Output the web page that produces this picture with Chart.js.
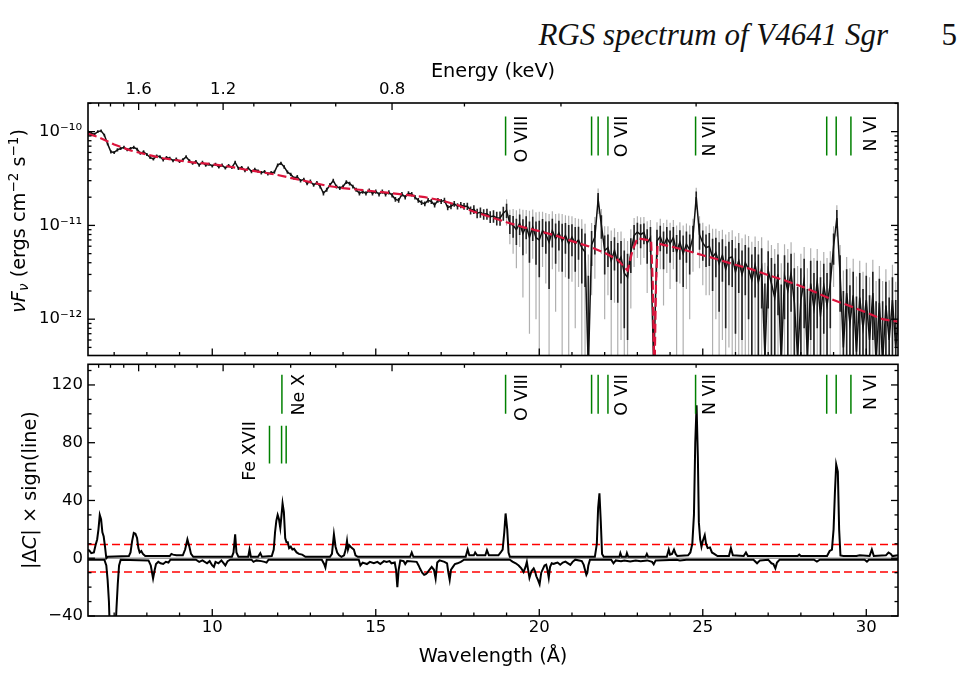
<!DOCTYPE html>
<html lang="en">
<head>
<meta charset="UTF-8">
<title>RGS spectrum of V4641 Sgr</title>
<style>
  body { margin: 0; background: #fff; }
  #page { position: relative; width: 964px; height: 695px; overflow: hidden; background: #fff; }
  .running { position: absolute; top: 17px; right: 76px; font: italic 31px 'Liberation Serif', serif; color: #111; white-space: nowrap; }
  .pageno { position: absolute; top: 17px; right: 7px; font: 31px 'Liberation Serif', serif; color: #111; }
  canvas { position: absolute; left: 0; }
</style>
</head>
<body>
<div id="page">
  <div class="running">RGS spectrum of V4641 Sgr</div>
  <div class="pageno">5</div>
  <canvas id="spec" width="964" height="360" style="top:0"></canvas>
  <canvas id="resid" width="964" height="335" style="top:360px"></canvas>
</div>

<script src="https://cdn.jsdelivr.net/npm/chart.js"></script>
<script>
  // wavelength grid of the binned spectrum (Angstrom)
  const waveStart = 6.2, waveStep = 0.1;
  const waveMin = 6.2, waveMax = 30.97;
  const hc = 12.398; // keV * Angstrom

  // nuFnu in units of 1e-12 ergs cm^-2 s^-1
  const fluxVal = [
    100, 96, 94, 100, 102, 92, 74, 61,
    60, 64, 66, 68, 64, 66, 68, 65, 59, 61,
    57, 53, 51, 55, 54, 50, 53, 52, 49, 51,
    48, 50, 54, 49, 46, 48, 44, 47, 44, 45,
    43, 45, 42, 44, 41, 43.5, 41.5, 47, 40.5, 41.5,
    38.5, 41, 37.5, 39.5, 38, 36.5, 37.5, 35.5, 36.5, 37,
    44, 46, 42, 37, 35, 32, 33, 30, 31, 28,
    29.5, 27, 28.5, 26, 22, 24, 27, 30, 26, 25,
    26, 29, 28, 26, 24, 22, 23, 22, 23.5, 22,
    23, 21.5, 23, 21.5, 22.5, 21, 19, 18.5, 21.5, 20,
    22, 21.5, 20, 18.5, 17.5, 17, 18.5, 18, 16.5, 18.5,
    18, 18.5, 15.5, 16, 17, 16, 16.5, 16, 16, 14.5,
    14.8, 13.5, 13.8, 13.2, 13.3, 12.4, 12.6, 12, 12, 13.5,
    14.5, 10.5, 10, 9, 10.5, 8.2, 9.8, 7.5, 9.6, 7.4,
    7.0, 8.8, 8, 6.6, 8.8, 7.2, 8.3, 6.8, 7.8, 6.4,
    7.5, 6.4, 7, 5.8, 5.2, 0.3, 6.2, 7.5, 19, 10,
    5.4, 5.8, 4.2, 5.4, 4.0, 4.6, 3.1, 2.8, 5.2, 7.8,
    8.5, 8.0, 8.4, 6.5, 7.4, 0.3, 6.8, 7.6, 6.0, 7.3,
    6.4, 7.4, 5.2, 6.6, 5.0, 6.3, 5.5, 7.5, 20, 8,
    6.5, 5.8, 6.0, 4.6, 5.1, 3.9, 4.8, 3.4, 4.5, 4.6,
    3.2, 4.2, 3.0, 4.0, 3.4, 2.6, 3.8, 2.5, 3.5, 0.4,
    3.3, 2.4, 1.7, 3.0, 0.35, 2.9, 2.0, 3.1, 1.5, 0.4,
    1.6, 2.6, 0.4, 2.4, 1.3, 2.5, 1.1, 2.3, 1.4, 2.4,
    6, 12, 3, 0.5, 1.9, 0.9, 1.8, 0.45, 1.7, 0.8,
    1.6, 0.6, 1.9, 0.35, 1.5, 0.35, 1.4, 0.6, 1.6, 0.5,
    1.2
  ];
  // 1-sigma errors of the binned points (black bars)
  const fluxErr = [
    3.5, 3.2, 3, 3.4, 3.6, 3.1, 2.6, 2.4,
    2.3, 2.5, 2.4, 2.6, 2.3, 2.5, 2.6, 2.4, 2.2, 2.3,
    2.1, 2.0, 1.9, 2.1, 2.0, 1.9, 2.0, 1.9, 1.8, 1.9,
    1.8, 1.9, 2.0, 1.8, 1.7, 1.8, 1.7, 1.8, 1.7, 1.7,
    1.6, 1.7, 1.6, 1.7, 1.6, 1.7, 1.6, 1.8, 1.6, 1.6,
    1.5, 1.6, 1.5, 1.6, 1.5, 1.5, 1.5, 1.4, 1.5, 1.5,
    1.7, 1.8, 1.7, 1.5, 1.4, 1.3, 1.4, 1.3, 1.3, 1.2,
    1.3, 1.2, 1.3, 1.2, 1.1, 1.2, 1.3, 1.4, 1.2, 1.2,
    1.2, 1.4, 1.3, 1.2, 1.2, 1.1, 1.2, 1.1, 1.2, 1.1,
    1.2, 1.1, 1.2, 1.1, 1.2, 1.1, 1.1, 1.1, 1.2, 1.1,
    1.2, 1.2, 1.1, 1.1, 1.0, 1.0, 1.1, 1.1, 1.0, 1.1,
    1.1, 1.2, 1.0, 1.1, 1.2, 1.2, 1.3, 1.3, 1.4, 1.4,
    1.6, 1.6, 1.7, 1.7, 1.8, 1.8, 1.9, 2.0, 2.1, 2.3,
    2.5, 2.4, 2.6, 2.8, 2.6, 3.4, 2.7, 3.5, 2.8, 3.6,
    4.2, 2.9, 3.0, 4.5, 3.0, 3.3, 2.9, 3.6, 2.8, 3.7,
    2.8, 3.2, 2.7, 3.4, 3.0, 2.6, 2.5, 2.6, 3.2, 2.8,
    2.4, 2.2, 2.6, 2.1, 2.5, 2.2, 2.3, 2.2, 2.1, 2.3,
    2.2, 2.3, 2.1, 2.6, 2.2, 0.5, 2.2, 2.3, 2.6, 2.3,
    2.4, 2.2, 2.7, 2.3, 2.8, 2.3, 2.5, 2.4, 3.0, 2.5,
    2.3, 2.2, 2.3, 2.6, 2.3, 2.7, 2.3, 2.6, 2.2, 2.4,
    2.5, 2.3, 2.4, 2.2, 2.4, 2.3, 2.1, 2.4, 2.2, 2.0,
    2.0, 2.1, 2.2, 1.9, 2.0, 1.9, 2.0, 1.9, 2.0, 1.8,
    1.9, 1.8, 1.7, 1.8, 1.8, 1.7, 1.7, 1.6, 1.7, 1.6,
    2.2, 2.6, 1.8, 1.5, 1.5, 1.4, 1.4, 1.3, 1.4, 1.3,
    1.3, 1.2, 1.3, 1.2, 1.2, 1.2, 1.1, 1.1, 1.2, 1.1,
    1.1
  ];
  // wider grey error bars of the fine bins, from 19.0 A onwards
  const wideStart = 19.0;
  const fluxErrWide = [
    4.5, 4.2, 5.0, 5.5, 4.6, 6.5, 4.8, 6.8, 5.2, 6.4,
    7.0, 5.2, 5.6, 6.6, 5.4, 6.0, 5.1, 6.4, 5.0, 6.3,
    5.0, 5.6, 4.8, 5.8, 5.2, 4.6, 4.4, 4.8, 5.8, 5.0,
    4.4, 4.0, 4.6, 3.9, 4.5, 4.0, 4.2, 4.0, 3.9, 4.2,
    4.0, 4.2, 3.9, 4.6, 4.0, 0.8, 4.0, 4.2, 4.6, 4.2,
    4.3, 4.0, 4.8, 4.2, 5.0, 4.2, 4.5, 4.3, 5.2, 4.5,
    4.2, 4.0, 4.2, 4.6, 4.1, 4.8, 4.2, 4.6, 4.0, 4.3,
    4.4, 4.1, 4.3, 4.0, 4.3, 4.1, 3.8, 4.3, 4.0, 3.6,
    3.6, 3.8, 3.9, 3.5, 3.6, 3.4, 3.6, 3.5, 3.6, 3.3,
    3.4, 3.3, 3.1, 3.3, 3.2, 3.1, 3.1, 2.9, 3.1, 2.9,
    3.8, 4.4, 3.2, 2.8, 2.7, 2.6, 2.6, 2.4, 2.5, 2.4,
    2.4, 2.2, 2.4, 2.2, 2.2, 2.2, 2.0, 2.0, 2.2, 2.0,
    2.0
  ];

  // best-fitting model (same units)
  const modelWave = [6.2, 6.5, 7.0, 7.5, 8.0, 8.5, 9.0, 9.5, 10.0, 10.5, 11.0, 11.5, 12.0, 12.5, 13.0, 13.5,
    14.0, 14.5, 15.0, 15.5, 16.0, 16.5, 17.0, 17.5, 18.0, 18.5, 19.0, 19.5, 20.0, 20.5, 21.0, 21.5, 22.0,
    22.4, 22.7, 22.85, 23.0, 23.42, 23.47, 23.52, 23.57, 23.62, 24.0, 24.5, 25.0, 25.5, 26.0, 26.5, 27.0,
    27.5, 28.0, 28.5, 29.0, 29.5, 30.0, 30.5, 30.97];
  const modelFlux = [95, 88, 73, 63, 57, 52, 49, 46.5, 45, 42.5, 39.5, 37, 34.5, 31.5, 29, 26.5,
    25, 24, 23, 22, 21, 20, 18.5, 16.5, 14, 12.3, 10.8, 9.6, 8.7, 7.8, 6.8, 6.0, 5.1,
    4.3, 3.3, 5.4, 7.3, 6.9, 2.5, 0.2, 2.5, 6.4, 6.0, 5.4, 4.8, 4.3, 3.8, 3.4, 2.95,
    2.6, 2.25, 1.9, 1.6, 1.38, 1.18, 1.0, 0.94];

  // |Delta C| x sign(line): emission-line search (>= 0)
  const resPosWave = [6.2, 6.25, 6.3, 6.38, 6.43, 6.48, 6.52, 6.56, 6.6, 6.64, 6.68, 6.72, 6.76, 6.8, 7.45,
    7.5, 7.55, 7.6, 7.65, 7.7, 7.74, 7.78, 7.83, 7.88, 7.95, 8.7, 8.75, 8.8, 8.9, 9.1, 9.17, 9.24, 9.3, 9.35, 9.42,
    10.6, 10.65, 10.7, 10.74, 10.8, 11.1, 11.14, 11.18, 11.4, 11.47, 11.52,
    11.82, 11.88, 11.92, 11.96, 12.0, 12.04, 12.08, 12.11, 12.15, 12.19, 12.23, 12.27, 12.31, 12.35, 12.4,
    12.45, 12.5, 12.58, 12.65, 12.75, 12.85, 13.6, 13.66, 13.72, 13.77, 13.82, 13.88, 13.95,
    14.03, 14.08, 14.12, 14.15, 14.19, 14.23, 14.28, 14.33, 14.38, 14.45, 16.05, 16.1, 16.15,
    17.75, 17.81, 17.86, 18.0, 18.04, 18.1, 18.35, 18.4, 18.46, 18.75, 18.82, 18.88, 18.93, 18.97, 19.02,
    19.06, 19.1, 21.7, 21.76, 21.8, 21.84, 21.88, 21.92, 21.97, 22.45, 22.48, 22.52, 22.65, 22.68, 22.72,
    23.25, 23.29, 23.33, 23.9, 23.96, 24.0, 24.06, 24.12, 24.17, 24.22, 24.55, 24.62, 24.68, 24.73, 24.77,
    24.81, 24.85, 24.88, 24.92, 24.96, 25.0, 25.06, 25.1, 25.15, 25.22, 25.28, 25.35, 25.45, 25.8, 25.86,
    25.92, 26.25, 26.32, 26.38, 27.9, 27.95, 28.0, 28.8, 28.88, 28.95, 29.0, 29.04, 29.08, 29.13, 29.17,
    29.21, 29.3, 29.7, 29.8, 30.1, 30.17, 30.23, 30.6, 30.68, 30.75, 30.8, 30.97];
  const resPosVal = [6, 5, 3.5, 4, 9, 13, 20, 30, 27, 18, 15, 8, 0, 1, 1.5,
    4, 12, 17.5, 17, 14, 7, 4, 5, 3, 1.5, 1.5, 3, 2.5, 2, 2, 6, 13, 8, 3, 1,
    1, 4, 16.5, 4, 1, 1, 6, 1, 1, 3.5, 1,
    1.5, 6, 18, 26, 30, 27, 21, 28, 38, 32, 14, 11, 11, 7, 8,
    6, 6.5, 4, 3, 2.5, 1, 1, 3, 16.5, 8, 4, 2, 1,
    2, 6, 12, 6, 9, 8, 7, 6, 2, 1, 1, 4, 1,
    1, 6, 2, 2, 4, 2, 2, 5.5, 2, 2, 4, 6, 18, 31, 20,
    4, 1, 1, 10, 35, 45, 26, 3, 1, 1, 3.5, 1, 1, 3.5, 1,
    1, 3, 1, 1, 6, 2.5, 3, 6, 3, 1.5, 2, 4, 10, 30, 80,
    106, 70, 25, 13, 8, 12, 16, 10, 7, 7.5, 4, 3, 1.5, 1.5, 7,
    2, 1.5, 4, 1.5, 1.5, 2.5, 1.5, 1.5, 5, 6, 20, 45, 65, 60, 20,
    2, 1.5, 1.5, 2, 1.5, 6, 1.5, 2, 4, 3, 1.5, 2];

  // absorption-line search (<= 0)
  const resNegWave = [6.2, 6.7, 6.76, 6.8, 6.84, 6.88, 7.02, 7.07, 7.11, 7.15, 7.2,
    8.05, 8.12, 8.19, 8.24, 8.28, 8.35, 8.42, 8.5, 8.58, 8.66, 8.72,
    9.5, 9.6, 9.7, 9.84, 9.92, 10.0, 10.05, 10.1, 10.19, 10.28, 10.4, 10.47, 10.55,
    11.2, 11.26, 11.35, 11.5, 11.6, 11.66, 11.72, 13.35, 13.42, 13.46, 13.5,
    14.48, 14.53, 14.6, 14.73, 14.82, 14.94, 15.05, 15.14, 15.25, 15.33, 15.42, 15.48, 15.58, 15.62, 15.66,
    15.7, 15.75, 15.85, 15.9, 15.96, 16.25, 16.31, 16.36, 16.42, 16.48, 16.53, 16.58, 16.64, 16.71, 16.78,
    16.83, 16.88, 16.95, 17.1, 17.18, 17.22, 17.26, 17.3, 17.36, 17.42, 17.5, 17.6, 17.7,
    19.1, 19.18, 19.28, 19.37, 19.45, 19.52, 19.58, 19.62, 19.66, 19.7, 19.76, 19.83, 19.87, 19.91, 19.96,
    20.01, 20.06, 20.12, 20.16, 20.21, 20.25, 20.29, 20.33, 20.38, 20.44, 20.49, 20.56, 20.64, 20.72, 20.8,
    20.88, 20.95, 21.02, 21.1, 21.3, 21.36, 21.41, 21.44, 21.47, 21.5, 21.55, 22.2, 22.27, 22.34, 22.5,
    22.6, 22.78, 22.95, 23.1, 23.3, 23.45, 23.5, 23.56, 24.2, 24.3, 24.5, 26.55, 26.66, 26.75, 27.0,
    27.1, 27.16, 27.22, 27.27, 27.35, 28.4, 28.49, 28.58, 29.95, 30.02, 30.08, 30.97];
  const resNegVal = [-1, -1, -5, -15, -30, -60, -60, -35, -18, -5, -1,
    -1.5, -5, -14, -8, -4, -2.5, -3.5, -4, -2.5, -3, -1,
    -1, -2.5, -1.5, -3.5, -2, -5, -6, -2.5, -3.5, -1.5, -5, -2, -1,
    -1, -2.5, -1.5, -2, -2.5, -3, -1, -1, -4, -6.5, -1,
    -1, -5, -3, -4, -2.5, -3.5, -2.5, -4, -2, -2.5, -2, -3.5, -3, -8, -20,
    -8, -1.5, -2, -4, -2, -2.5, -5, -7.5, -10, -11.5, -11, -10, -8, -6, -8,
    -14, -3, -1.5, -2.5, -3.5, -10, -15, -8, -6, -4, -3.5, -2.5, -1,
    -1, -2.3, -3.5, -5, -7, -9.5, -6, -2.5, -8, -13.5, -9, -7, -9, -12.5, -15,
    -18, -10, -7, -5, -4.5, -8, -13.5, -6, -3.5, -4, -3.5, -3, -4.5, -3, -2.3,
    -3.5, -4.6, -2.5, -1, -2, -4.6, -9, -11.5, -10, -5, -1, -1, -3.5, -1.5, -2,
    -1.5, -2.3, -1.5, -2, -1.5, -2.5, -4.2, -1.5, -1, -1.5, -1, -1, -3.5, -1.5, -1,
    -3.5, -4, -7, -3, -1, -1, -2.3, -1, -1, -2.3, -1, -1];
  const resLimit = 9.5;

  // line identifications (Angstrom)
  const ionWave = [18.97, 21.60, 21.80, 22.10, 24.78, 28.79, 29.08, 29.53];
  const neWave = [12.13];
  const feWave = [11.75, 12.12, 12.26];
  const ionNames = ['O VIII', 'O VII', 'N VII', 'N VI'];
  const ionNameWave = [19.49, 22.54, 25.24, 30.16];
  const neName = 'Ne X', neNameWave = 12.66;
  const feName = 'Fe XVII', feNameWave = 11.18;

  // ticks
  const waveMajor = [10, 15, 20, 25, 30];
  const waveMinor = [7, 8, 9, 11, 12, 13, 14, 16, 17, 18, 19, 21, 22, 23, 24, 26, 27, 28, 29];
  const energyMajor = [1.6, 1.2, 0.8];
  const energyMinor = [1.9, 1.8, 1.7, 1.5, 1.4, 1.3, 1.1, 1.0, 0.9, 0.7, 0.6, 0.5];
  const fluxMajor = [1e-12, 1e-11, 1e-10];
  const fluxMajorLabels = ['10\u207B\u00B9\u00B2', '10\u207B\u00B9\u00B9', '10\u207B\u00B9\u2070'];
  const fluxMinor = [5e-13, 6e-13, 7e-13, 8e-13, 9e-13, 2e-12, 3e-12, 4e-12, 5e-12, 6e-12, 7e-12, 8e-12, 9e-12,
    2e-11, 3e-11, 4e-11, 5e-11, 6e-11, 7e-11, 8e-11, 9e-11, 2e-10];
  const resMajor = [-40, 0, 40, 80, 120];
  const resMinor = [-30, -20, -10, 10, 20, 30, 50, 60, 70, 90, 100, 110, 130];

  const FONT = '"DejaVu Sans", sans-serif';
  const E12 = 1e-12;

  function vlines(xs, lo, hi) {
    const pts = [];
    xs.forEach(x => pts.push({x, y: lo}, {x, y: hi}, {x, y: null}));
    return pts;
  }
  const pairs = (xs, ys, k) => xs.map((x, i) => ({x, y: ys[i] * (k || 1)}));
  function errBars(start, vals, errs) {
    const pts = [];
    errs.forEach((e, i) => {
      const x = +(start + waveStep * i).toFixed(2);
      const f = vals[Math.round((x - waveStart) / waveStep)];
      pts.push({x, y: Math.max(f - e, 0.01) * E12}, {x, y: (f + e) * E12}, {x, y: null});
    });
    return pts;
  }
  const fluxPts = fluxVal.map((f, i) => ({x: +(waveStart + waveStep * i).toFixed(2), y: f * E12}));

  const tickSet = (maj, min, conv) => maj.map(v => [conv ? conv(v) : v, 7]).concat(min.map(v => [conv ? conv(v) : v, 3.5]));
  const toWave = e => hc / e;

  // inward ticks on all four sides plus the frame
  const frameTicks = {
    id: 'frameTicks',
    afterDatasetsDraw(chart, args, opts) {
      const {ctx, chartArea: a} = chart;
      const xs = chart.scales.x, ys = chart.scales.y;
      ctx.save();
      ctx.strokeStyle = '#000';
      ctx.lineWidth = 1.3;
      const seg = (x1, y1, x2, y2) => { ctx.beginPath(); ctx.moveTo(x1, y1); ctx.lineTo(x2, y2); ctx.stroke(); };
      opts.bottom.forEach(([v, l]) => { const p = xs.getPixelForValue(v); seg(p, a.bottom, p, a.bottom - l); });
      opts.top.forEach(([v, l]) => { const p = xs.getPixelForValue(v); if (p > a.left && p < a.right) seg(p, a.top, p, a.top + l); });
      opts.side.forEach(([v, l]) => {
        const p = ys.getPixelForValue(v);
        if (p < a.top - 0.5 || p > a.bottom + 0.5) return;
        seg(a.left, p, a.left + l, p); seg(a.right, p, a.right - l, p);
      });
      ctx.lineWidth = 1.6;
      ctx.strokeRect(a.left, a.top, a.right - a.left, a.bottom - a.top);
      ctx.restore();
    }
  };

  // rotated line names and y-axis title
  function drawRuns(ctx, runs, cx, cy, size) {
    let total = 0;
    const parts = runs.map(r => {
      const s = r.s ? size * 0.7 : size;
      const font = (r.i ? 'italic ' : '') + s + 'px ' + FONT;
      ctx.font = font;
      const w = ctx.measureText(r.t).width;
      total += w;
      return {t: r.t, font, w, dy: r.s === 'sup' ? -size * 0.38 : (r.s === 'sub' ? size * 0.18 : 0)};
    });
    ctx.save();
    ctx.translate(cx, cy);
    ctx.rotate(-Math.PI / 2);
    ctx.fillStyle = '#000';
    ctx.textBaseline = 'alphabetic';
    ctx.textAlign = 'left';
    let x = -total / 2;
    parts.forEach(p => { ctx.font = p.font; ctx.fillText(p.t, x, p.dy); x += p.w; });
    ctx.restore();
  }
  const annot = {
    id: 'annot',
    afterDraw(chart, args, opts) {
      const {ctx} = chart;
      const xs = chart.scales.x, ys = chart.scales.y;
      ctx.save();
      ctx.fillStyle = '#000';
      ctx.font = '17.5px ' + FONT;
      ctx.textAlign = 'right';
      ctx.textBaseline = 'middle';
      opts.names.forEach(([txt, w, yv]) => {
        ctx.save();
        ctx.translate(xs.getPixelForValue(w), ys.getPixelForValue(yv));
        ctx.rotate(-Math.PI / 2);
        ctx.fillText(txt, 0, 0);
        ctx.restore();
      });
      ctx.restore();
      drawRuns(ctx, opts.title, opts.titleX, opts.titleY, 19.3);
    }
  };

  const tickFont = {family: FONT, size: 16.5};
  const titleFont = {family: FONT, size: 19.3};
  const noGrid = {display: false, drawTicks: false};
  const noPad = s => { s.paddingTop = 0; s.paddingBottom = 0; s.paddingLeft = 0; s.paddingRight = 0; };

  const lineSet = (data, color, width, order, dash) => ({
    data, borderColor: color, borderWidth: width, showLine: true, pointRadius: 0,
    borderDash: dash || [], order, tension: 0, spanGaps: false
  });

  // ---------- upper panel: spectrum ----------
  const topNamesY = 1.48e-10;
  new Chart(document.getElementById('spec'), {
    type: 'scatter',
    data: {
      datasets: [
        lineSet(vlines(ionWave, 5.55e-11, 1.45e-10), '#008000', 1.5, 1),
        lineSet(pairs(modelWave, modelFlux, E12), '#dc143c', 2.2, 2, [9, 4]),
        lineSet(fluxPts, '#111', 1.5, 3),
        lineSet(errBars(waveStart, fluxVal, fluxErr), '#222', 1.6, 4),
        lineSet(errBars(wideStart, fluxVal, fluxErrWide), '#b0b0b0', 1.2, 5)
      ]
    },
    options: {
      responsive: false, animation: false, devicePixelRatio: 1,
      layout: {padding: {left: 0, right: 66, top: 0, bottom: 4.5}},
      plugins: {
        legend: {display: false}, tooltip: {enabled: false},
        frameTicks: {
          bottom: tickSet(waveMajor, waveMinor),
          top: tickSet(energyMajor, energyMinor, toWave),
          side: tickSet(fluxMajor, fluxMinor)
        },
        annot: {
          names: ionNames.map((n, i) => [n, ionNameWave[i], topNamesY]),
          title: [{t: '\u03BD', i: 1}, {t: 'F', i: 1}, {t: '\u03BD', i: 1, s: 'sub'}, {t: ' (ergs cm'},
                  {t: '\u22122', s: 'sup'}, {t: ' s'}, {t: '\u22121', s: 'sup'}, {t: ')'}],
          titleX: 25, titleY: 221
        }
      },
      scales: {
        x: {
          type: 'linear', position: 'bottom', min: waveMin, max: waveMax,
          ticks: {display: false}, grid: noGrid, border: {display: false},
          afterFit: s => { s.height = 0; noPad(s); }
        },
        xTop: {
          type: 'linear', position: 'top', min: waveMin, max: waveMax,
          afterBuildTicks: s => { s.ticks = energyMajor.map(e => ({value: toWave(e)})); },
          ticks: {font: tickFont, color: '#000', padding: 3, autoSkip: false, maxRotation: 0,
                  callback: (v, i) => energyMajor[i].toFixed(1)},
          title: {display: true, text: 'Energy (keV)', font: titleFont, color: '#000', padding: {top: 60}},
          grid: noGrid, border: {display: false},
          afterFit: s => { s.height = 103; noPad(s); }
        },
        y: {
          type: 'logarithmic', min: 4.1e-13, max: 2.02e-10,
          afterBuildTicks: s => { s.ticks = fluxMajor.map(v => ({value: v})); },
          ticks: {font: tickFont, color: '#000', padding: 6, autoSkip: false,
                  callback: (v, i) => fluxMajorLabels[i]},
          grid: noGrid, border: {display: false},
          afterFit: s => { s.width = 88; noPad(s); }
        }
      }
    },
    plugins: [frameTicks, annot]
  });

  // ---------- lower panel: line search ----------
  new Chart(document.getElementById('resid'), {
    type: 'scatter',
    data: {
      datasets: [
        lineSet(vlines(ionWave.concat(neWave), 100, 127), '#008000', 1.5, 1),
        lineSet(vlines(feWave, 65.6, 91.7), '#008000', 1.5, 1),
        lineSet(pairs(resPosWave, resPosVal), '#000', 2, 2),
        lineSet(pairs(resNegWave, resNegVal), '#000', 2, 3),
        lineSet([{x: waveMin, y: resLimit}, {x: waveMax, y: resLimit}], '#ff0000', 1.5, 4, [8, 4]),
        lineSet([{x: waveMin, y: -resLimit}, {x: waveMax, y: -resLimit}], '#ff0000', 1.5, 4, [8, 4]),
        lineSet([{x: waveMin, y: 0}, {x: waveMax, y: 0}], '#999', 1.5, 5)
      ]
    },
    options: {
      responsive: false, animation: false, devicePixelRatio: 1,
      layout: {padding: {left: 0, right: 66, top: 4.3, bottom: 0}},
      plugins: {
        legend: {display: false}, tooltip: {enabled: false},
        frameTicks: {
          bottom: tickSet(waveMajor, waveMinor),
          top: tickSet(energyMajor, energyMinor, toWave),
          side: tickSet(resMajor, resMinor)
        },
        annot: {
          names: ionNames.map((n, i) => [n, ionNameWave[i], 127.5])
            .concat([[neName, neNameWave, 127.5], [feName, feNameWave, 95]]),
          title: [{t: '|\u0394'}, {t: 'C', i: 1}, {t: '| \u00D7 sign(line)'}],
          titleX: 35.5, titleY: 130
        }
      },
      scales: {
        x: {
          type: 'linear', position: 'bottom', min: waveMin, max: waveMax,
          afterBuildTicks: s => { s.ticks = waveMajor.map(v => ({value: v})); },
          ticks: {font: tickFont, color: '#000', padding: 2, autoSkip: false, maxRotation: 0,
                  callback: v => String(v)},
          title: {display: true, text: 'Wavelength (\u00C5)', font: titleFont, color: '#000', padding: {bottom: 26}},
          grid: noGrid, border: {display: false},
          afterFit: s => { s.height = 79; noPad(s); }
        },
        y: {
          type: 'linear', min: -40, max: 134.3,
          afterBuildTicks: s => { s.ticks = resMajor.map(v => ({value: v})); },
          ticks: {font: tickFont, color: '#000', padding: 5, autoSkip: false,
                  callback: v => (v < 0 ? '\u2212' + Math.abs(v) : String(v))},
          grid: noGrid, border: {display: false},
          afterFit: s => { s.width = 88; noPad(s); }
        }
      }
    },
    plugins: [frameTicks, annot]
  });
</script>
</body>
</html>
